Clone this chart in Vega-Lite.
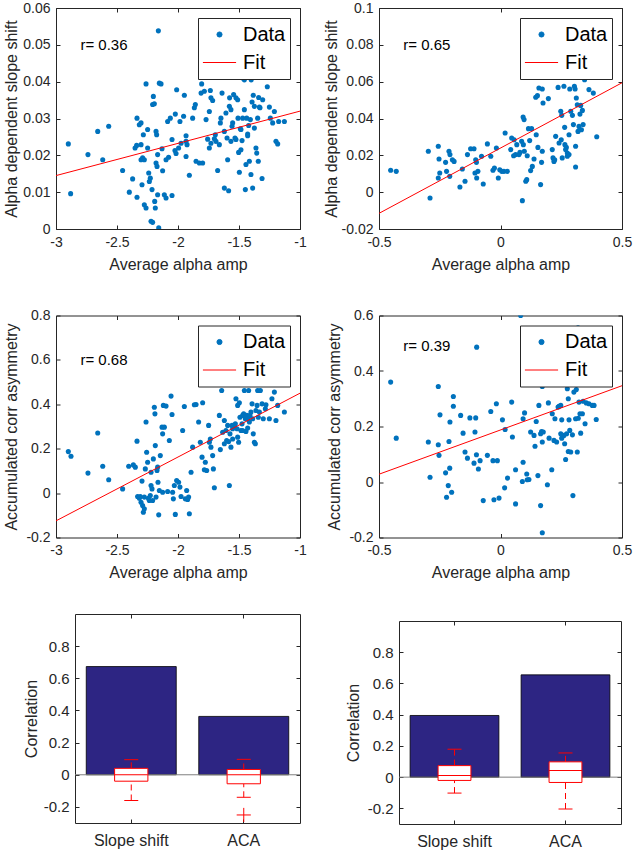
{
"$schema": "https://vega.github.io/schema/vega-lite/v6.json",
"padding": {"left": 3, "top": 0, "right": 4, "bottom": 4},
"background": "white",
"datasets": {
"d1": [{"x":-2.899,"y":0.0231},{"x":-2.88,"y":0.0096},{"x":-2.738,"y":0.0202},{"x":-2.658,"y":0.0265},{"x":-2.617,"y":0.0188},{"x":-2.568,"y":0.0279},{"x":-2.454,"y":0.0159},{"x":-2.399,"y":0.01},{"x":-2.372,"y":0.0136},{"x":-2.336,"y":0.0086},{"x":-2.336,"y":0.0301},{"x":-2.317,"y":0.0283},{"x":-2.303,"y":0.0288},{"x":-2.284,"y":0.0256},{"x":-2.352,"y":0.022},{"x":-2.339,"y":0.0227},{"x":-2.303,"y":0.0229},{"x":-2.29,"y":0.0193},{"x":-2.276,"y":0.0188},{"x":-2.295,"y":0.012},{"x":-2.276,"y":0.0066},{"x":-2.262,"y":0.0057},{"x":-2.262,"y":0.0394},{"x":-2.249,"y":0.027},{"x":-2.249,"y":0.022},{"x":-2.24,"y":0.0152},{"x":-2.235,"y":0.0129},{"x":-2.227,"y":0.0138},{"x":-2.221,"y":0.0021},{"x":-2.208,"y":0.0018},{"x":-2.213,"y":0.0107},{"x":-2.202,"y":0.036},{"x":-2.208,"y":0.0338},{"x":-2.194,"y":0.034},{"x":-2.186,"y":0.0057},{"x":-2.191,"y":0.0075},{"x":-2.18,"y":0.0265},{"x":-2.18,"y":0.0179},{"x":-2.175,"y":0.0256},{"x":-2.167,"y":0.0202},{"x":-2.161,"y":0.0538},{"x":-2.158,"y":0.0003},{"x":-2.167,"y":0.0093},{"x":-2.172,"y":0.017},{"x":-2.153,"y":0.0396},{"x":-2.139,"y":0.0394},{"x":-2.131,"y":0.0218},{"x":-2.126,"y":0.0158},{"x":-2.112,"y":0.0093},{"x":-2.098,"y":0.0084},{"x":-2.077,"y":0.0195},{"x":-2.085,"y":0.0292},{"x":-2.063,"y":0.0301},{"x":-2.049,"y":0.0091},{"x":-2.049,"y":0.0243},{"x":-2.025,"y":0.0213},{"x":-2.022,"y":0.0312},{"x":-2.011,"y":0.0378},{"x":-1.995,"y":0.022},{"x":-1.984,"y":0.0292},{"x":-1.975,"y":0.0233},{"x":-1.948,"y":0.0363},{"x":-1.954,"y":0.0306},{"x":-1.934,"y":0.0197},{"x":-1.934,"y":0.0238},{"x":-1.926,"y":0.0229},{"x":-1.907,"y":0.0146},{"x":-1.88,"y":0.0301},{"x":-1.866,"y":0.0329},{"x":-1.858,"y":0.0338},{"x":-1.852,"y":0.0184},{"x":-1.825,"y":0.0179},{"x":-1.811,"y":0.0369},{"x":-1.806,"y":0.0394},{"x":-1.798,"y":0.0179},{"x":-1.784,"y":0.0374},{"x":-1.77,"y":0.0297},{"x":-1.757,"y":0.0244},{"x":-1.743,"y":0.0319},{"x":-1.743,"y":0.022},{"x":-1.735,"y":0.0376},{"x":-1.73,"y":0.0356},{"x":-1.716,"y":0.0349},{"x":-1.702,"y":0.0245},{"x":-1.694,"y":0.0256},{"x":-1.675,"y":0.0159},{"x":-1.661,"y":0.0229},{"x":-1.653,"y":0.0288},{"x":-1.648,"y":0.0301},{"x":-1.639,"y":0.0369},{"x":-1.62,"y":0.0265},{"x":-1.62,"y":0.0111},{"x":-1.607,"y":0.0315},{"x":-1.598,"y":0.0247},{"x":-1.593,"y":0.0188},{"x":-1.585,"y":0.0104},{"x":-1.579,"y":0.0333},{"x":-1.577,"y":0.0356},{"x":-1.566,"y":0.0324},{"x":-1.557,"y":0.0279},{"x":-1.552,"y":0.0288},{"x":-1.544,"y":0.0365},{"x":-1.533,"y":0.0247},{"x":-1.525,"y":0.0243},{"x":-1.525,"y":0.0356},{"x":-1.511,"y":0.0351},{"x":-1.508,"y":0.0301},{"x":-1.503,"y":0.0208},{"x":-1.497,"y":0.0154},{"x":-1.489,"y":0.0272},{"x":-1.484,"y":0.0215},{"x":-1.475,"y":0.024},{"x":-1.47,"y":0.0301},{"x":-1.456,"y":0.0324},{"x":-1.456,"y":0.0405},{"x":-1.448,"y":0.0107},{"x":-1.443,"y":0.0175},{"x":-1.437,"y":0.0301},{"x":-1.429,"y":0.0258},{"x":-1.421,"y":0.0281},{"x":-1.415,"y":0.0184},{"x":-1.407,"y":0.0297},{"x":-1.402,"y":0.0148},{"x":-1.393,"y":0.0345},{"x":-1.388,"y":0.0111},{"x":-1.383,"y":0.0363},{"x":-1.374,"y":0.0274},{"x":-1.374,"y":0.0333},{"x":-1.361,"y":0.022},{"x":-1.355,"y":0.0206},{"x":-1.347,"y":0.0301},{"x":-1.342,"y":0.0184},{"x":-1.339,"y":0.0357},{"x":-1.333,"y":0.0331},{"x":-1.328,"y":0.0329},{"x":-1.311,"y":0.0137},{"x":-1.306,"y":0.0351},{"x":-1.268,"y":0.0386},{"x":-1.251,"y":0.0331},{"x":-1.243,"y":0.0301},{"x":-1.224,"y":0.0288},{"x":-1.21,"y":0.0319},{"x":-1.197,"y":0.0238},{"x":-1.183,"y":0.0231},{"x":-1.175,"y":0.0292},{"x":-1.128,"y":0.0292},{"x":-1.429,"y":0.0253},{"x":-1.484,"y":0.027},{"x":-1.566,"y":0.0238},{"x":-1.689,"y":0.0238},{"x":-1.73,"y":0.0233},{"x":-1.934,"y":0.0253},{"x":-2.016,"y":0.0205},{"x":-2.098,"y":0.0188},{"x":-2.303,"y":0.0188},{"x":-1.47,"y":0.041},{"x":-1.4,"y":0.0405}],
"d2": [{"x":-0.452,"y":0.0119},{"x":-0.429,"y":0.0113},{"x":-0.297,"y":0.0222},{"x":-0.29,"y":-0.0032},{"x":-0.256,"y":0.0249},{"x":-0.253,"y":0.018},{"x":-0.25,"y":0.0104},{"x":-0.256,"y":0.0077},{"x":-0.226,"y":0.0162},{"x":-0.222,"y":0.0113},{"x":-0.212,"y":0.0222},{"x":-0.208,"y":0.0204},{"x":-0.209,"y":0.0086},{"x":-0.198,"y":0.0176},{"x":-0.191,"y":0.0167},{"x":-0.167,"y":0.0028},{"x":-0.157,"y":0.0126},{"x":-0.146,"y":0.0059},{"x":-0.136,"y":0.0204},{"x":-0.123,"y":0.0236},{"x":-0.109,"y":0.0236},{"x":-0.102,"y":0.0176},{"x":-0.099,"y":0.0162},{"x":-0.105,"y":0.0104},{"x":-0.098,"y":0.0077},{"x":-0.093,"y":0.0113},{"x":-0.078,"y":0.0195},{"x":-0.071,"y":0.0044},{"x":-0.054,"y":0.0262},{"x":-0.04,"y":0.0195},{"x":-0.031,"y":0.0119},{"x":-0.025,"y":0.0131},{"x":-0.017,"y":0.024},{"x":-0.009,"y":0.0077},{"x":-0.003,"y":0.0122},{"x":0.005,"y":0.0113},{"x":0.014,"y":0.0113},{"x":0.019,"y":0.0321},{"x":0.028,"y":0.0113},{"x":0.042,"y":0.0231},{"x":0.046,"y":0.0294},{"x":0.056,"y":0.0285},{"x":0.062,"y":0.0204},{"x":0.067,"y":0.0258},{"x":0.076,"y":0.0204},{"x":0.08,"y":0.0216},{"x":0.087,"y":0.0276},{"x":0.093,"y":0.0408},{"x":0.097,"y":0.0394},{"x":0.094,"y":0.0258},{"x":0.09,"y":-0.0046},{"x":0.098,"y":0.0222},{"x":0.104,"y":0.0059},{"x":0.108,"y":0.0068},{"x":0.11,"y":0.0198},{"x":0.115,"y":0.0345},{"x":0.12,"y":0.028},{"x":0.124,"y":0.0117},{"x":0.128,"y":0.0345},{"x":0.131,"y":0.014},{"x":0.138,"y":0.018},{"x":0.145,"y":0.0515},{"x":0.147,"y":0.0312},{"x":0.152,"y":0.0524},{"x":0.154,"y":0.0243},{"x":0.158,"y":0.0566},{"x":0.165,"y":0.0041},{"x":0.169,"y":0.0162},{"x":0.172,"y":0.056},{"x":0.175,"y":0.0484},{"x":0.172,"y":0.0222},{"x":0.197,"y":0.0508},{"x":0.213,"y":0.0231},{"x":0.216,"y":0.0186},{"x":0.22,"y":0.0167},{"x":0.227,"y":0.0303},{"x":0.237,"y":0.0569},{"x":0.241,"y":0.0267},{"x":0.248,"y":0.0439},{"x":0.252,"y":0.0417},{"x":0.25,"y":0.0285},{"x":0.254,"y":0.0186},{"x":0.261,"y":0.0575},{"x":0.264,"y":0.0352},{"x":0.265,"y":0.0258},{"x":0.268,"y":0.0231},{"x":0.271,"y":0.0243},{"x":0.275,"y":0.0213},{"x":0.275,"y":0.0195},{"x":0.282,"y":0.0312},{"x":0.285,"y":0.056},{"x":0.289,"y":0.0439},{"x":0.296,"y":0.0417},{"x":0.3,"y":0.0367},{"x":0.304,"y":0.0575},{"x":0.307,"y":0.056},{"x":0.309,"y":0.0137},{"x":0.309,"y":0.0249},{"x":0.312,"y":0.0511},{"x":0.316,"y":0.0475},{"x":0.319,"y":0.033},{"x":0.323,"y":0.0357},{"x":0.327,"y":0.0424},{"x":0.33,"y":0.0471},{"x":0.333,"y":0.0339},{"x":0.337,"y":0.0444},{"x":0.34,"y":0.0367},{"x":0.346,"y":0.0611},{"x":0.364,"y":0.0557},{"x":0.382,"y":0.0538},{"x":0.396,"y":0.0301},{"x":0.282,"y":0.0204},{"x":0.223,"y":0.0176},{"x":0.054,"y":0.0198}],
"d3": [{"x":-2.899,"y":0.187},{"x":-2.877,"y":0.166},{"x":-2.738,"y":0.09},{"x":-2.658,"y":0.271},{"x":-2.617,"y":0.121},{"x":-2.568,"y":0.06},{"x":-2.454,"y":0.019},{"x":-2.404,"y":0.121},{"x":-2.366,"y":0.127},{"x":-2.35,"y":0.117},{"x":-2.336,"y":0.234},{"x":-2.331,"y":-0.015},{"x":-2.317,"y":-0.023},{"x":-2.309,"y":-0.015},{"x":-2.303,"y":-0.041},{"x":-2.295,"y":0.054},{"x":-2.29,"y":-0.056},{"x":-2.284,"y":-0.086},{"x":-2.276,"y":-0.071},{"x":-2.276,"y":-0.018},{"x":-2.268,"y":0.109},{"x":-2.262,"y":0.32},{"x":-2.257,"y":0.184},{"x":-2.249,"y":0.139},{"x":-2.243,"y":-0.023},{"x":-2.235,"y":-0.033},{"x":-2.227,"y":-0.011},{"x":-2.221,"y":0.094},{"x":-2.208,"y":-0.033},{"x":-2.213,"y":0.019},{"x":-2.202,"y":0.154},{"x":-2.194,"y":0.387},{"x":-2.189,"y":0.357},{"x":-2.186,"y":0.214},{"x":-2.18,"y":-0.018},{"x":-2.172,"y":0.102},{"x":-2.167,"y":0.117},{"x":-2.164,"y":0.049},{"x":-2.158,"y":-0.098},{"x":-2.153,"y":0.012},{"x":-2.145,"y":0.169},{"x":-2.131,"y":0.297},{"x":-2.126,"y":0.267},{"x":-2.12,"y":0.395},{"x":-2.112,"y":0.297},{"x":-2.098,"y":0.392},{"x":-2.085,"y":0.007},{"x":-2.071,"y":0.237},{"x":-2.057,"y":0.437},{"x":-2.049,"y":0.354},{"x":-2.044,"y":0.004},{"x":-2.038,"y":-0.026},{"x":-2.03,"y":0.034},{"x":-2.022,"y":-0.096},{"x":-2.011,"y":0.057},{"x":-1.995,"y":0.049},{"x":-1.984,"y":0.027},{"x":-1.975,"y":-0.015},{"x":-1.962,"y":0.282},{"x":-1.948,"y":0.39},{"x":-1.94,"y":-0.026},{"x":-1.929,"y":0.012},{"x":-1.921,"y":-0.029},{"x":-1.913,"y":-0.018},{"x":-1.907,"y":-0.093},{"x":-1.893,"y":0.094},{"x":-1.88,"y":0.207},{"x":-1.866,"y":0.398},{"x":-1.852,"y":0.399},{"x":-1.831,"y":0.32},{"x":-1.817,"y":0.229},{"x":-1.798,"y":0.407},{"x":-1.803,"y":0.162},{"x":-1.784,"y":0.105},{"x":-1.776,"y":0.139},{"x":-1.765,"y":0.102},{"x":-1.749,"y":0.305},{"x":-1.743,"y":0.229},{"x":-1.735,"y":0.244},{"x":-1.73,"y":0.207},{"x":-1.716,"y":0.169},{"x":-1.71,"y":0.109},{"x":-1.702,"y":0.024},{"x":-1.661,"y":0.35},{"x":-1.653,"y":0.196},{"x":-1.642,"y":0.462},{"x":-1.634,"y":0.274},{"x":-1.62,"y":0.327},{"x":-1.607,"y":0.282},{"x":-1.601,"y":0.237},{"x":-1.593,"y":0.305},{"x":-1.585,"y":0.232},{"x":-1.579,"y":0.034},{"x":-1.574,"y":0.267},{"x":-1.566,"y":0.207},{"x":-1.557,"y":0.305},{"x":-1.552,"y":0.244},{"x":-1.538,"y":0.297},{"x":-1.53,"y":0.312},{"x":-1.525,"y":0.425},{"x":-1.516,"y":0.29},{"x":-1.511,"y":0.395},{"x":-1.503,"y":0.229},{"x":-1.497,"y":0.407},{"x":-1.492,"y":0.342},{"x":-1.484,"y":0.282},{"x":-1.475,"y":0.312},{"x":-1.47,"y":0.35},{"x":-1.462,"y":0.357},{"x":-1.456,"y":0.462},{"x":-1.448,"y":0.335},{"x":-1.443,"y":0.278},{"x":-1.437,"y":0.35},{"x":-1.429,"y":0.293},{"x":-1.421,"y":0.462},{"x":-1.415,"y":0.32},{"x":-1.41,"y":0.35},{"x":-1.402,"y":0.365},{"x":-1.393,"y":0.402},{"x":-1.388,"y":0.335},{"x":-1.383,"y":0.267},{"x":-1.374,"y":0.229},{"x":-1.366,"y":0.222},{"x":-1.361,"y":0.372},{"x":-1.352,"y":0.395},{"x":-1.347,"y":0.462},{"x":-1.342,"y":0.342},{"x":-1.333,"y":0.365},{"x":-1.325,"y":0.462},{"x":-1.311,"y":0.402},{"x":-1.301,"y":0.335},{"x":-1.284,"y":0.38},{"x":-1.279,"y":0.398},{"x":-1.251,"y":0.335},{"x":-1.23,"y":0.425},{"x":-1.21,"y":0.455},{"x":-1.197,"y":0.327},{"x":-1.183,"y":0.395},{"x":-1.128,"y":0.365},{"x":-1.47,"y":0.282},{"x":-1.552,"y":0.29},{"x":-1.511,"y":0.252},{"x":-1.429,"y":0.335},{"x":-1.62,"y":0.222},{"x":-2.126,"y":0.004},{"x":-2.221,"y":0.034}],
"d4": [{"x":-0.452,"y":0.36},{"x":-0.429,"y":0.158},{"x":-0.297,"y":0.144},{"x":-0.29,"y":0.017},{"x":-0.256,"y":0.344},{"x":-0.256,"y":0.134},{"x":-0.253,"y":0.096},{"x":-0.249,"y":0.242},{"x":-0.226,"y":0.033},{"x":-0.222,"y":-0.055},{"x":-0.215,"y":-0.013},{"x":-0.212,"y":0.146},{"x":-0.209,"y":0.05},{"x":-0.208,"y":0.216},{"x":-0.201,"y":-0.037},{"x":-0.194,"y":0.308},{"x":-0.194,"y":0.273},{"x":-0.164,"y":0.24},{"x":-0.154,"y":0.176},{"x":-0.146,"y":0.108},{"x":-0.136,"y":0.086},{"x":-0.126,"y":0.231},{"x":-0.109,"y":0.068},{"x":-0.105,"y":0.18},{"x":-0.102,"y":0.231},{"x":-0.099,"y":0.098},{"x":-0.098,"y":0.486},{"x":-0.091,"y":0.047},{"x":-0.084,"y":0.077},{"x":-0.071,"y":-0.067},{"x":-0.054,"y":0.096},{"x":-0.04,"y":0.254},{"x":-0.031,"y":0.077},{"x":-0.027,"y":-0.064},{"x":-0.017,"y":0.282},{"x":-0.013,"y":0.077},{"x":-0.006,"y":-0.058},{"x":0.008,"y":0.224},{"x":0.017,"y":-0.021},{"x":0.019,"y":0.189},{"x":0.029,"y":0.014},{"x":0.046,"y":0.288},{"x":0.049,"y":0.162},{"x":0.062,"y":0.044},{"x":0.062,"y":-0.079},{"x":0.083,"y":0.6},{"x":0.09,"y":0.002},{"x":0.093,"y":0.071},{"x":0.093,"y":0.228},{"x":0.099,"y":0.249},{"x":0.108,"y":0.029},{"x":0.11,"y":0.008},{"x":0.117,"y":0.009},{"x":0.124,"y":0.18},{"x":0.138,"y":0.168},{"x":0.142,"y":0.129},{"x":0.147,"y":0.218},{"x":0.154,"y":0.023},{"x":0.158,"y":0.276},{"x":0.165,"y":0.174},{"x":0.169,"y":0.182},{"x":0.165,"y":-0.085},{"x":0.172,"y":0.344},{"x":0.176,"y":0.18},{"x":0.193,"y":-0.01},{"x":0.197,"y":0.285},{"x":0.2,"y":0.158},{"x":0.211,"y":0.044},{"x":0.213,"y":0.246},{"x":0.22,"y":0.15},{"x":0.224,"y":0.228},{"x":0.231,"y":0.144},{"x":0.237,"y":0.27},{"x":0.241,"y":0.273},{"x":0.248,"y":0.276},{"x":0.252,"y":0.224},{"x":0.252,"y":0.158},{"x":0.261,"y":0.168},{"x":0.264,"y":0.138},{"x":0.268,"y":0.081},{"x":0.272,"y":0.174},{"x":0.275,"y":0.336},{"x":0.279,"y":0.11},{"x":0.279,"y":0.3},{"x":0.282,"y":0.224},{"x":0.285,"y":0.186},{"x":0.289,"y":0.108},{"x":0.296,"y":0.17},{"x":0.298,"y":-0.049},{"x":0.302,"y":0.324},{"x":0.309,"y":0.228},{"x":0.312,"y":0.333},{"x":0.316,"y":0.108},{"x":0.319,"y":0.556},{"x":0.32,"y":0.23},{"x":0.323,"y":0.288},{"x":0.327,"y":0.246},{"x":0.33,"y":0.176},{"x":0.337,"y":0.246},{"x":0.34,"y":0.291},{"x":0.348,"y":0.21},{"x":0.353,"y":0.285},{"x":0.364,"y":0.282},{"x":0.378,"y":0.276},{"x":0.385,"y":0.276},{"x":0.394,"y":0.225},{"x":0.172,"y":0.144},{"x":0.248,"y":0.174},{"x":0.172,"y":-0.183}],
"f1": [{"x":-3,"y":0.0145},{"x":-1,"y":0.032}],
"f2": [{"x":-0.5,"y":-0.0115},{"x":0.5,"y":0.0594}],
"f3": [{"x":-3,"y":-0.125},{"x":-1,"y":0.45}],
"f4": [{"x":-0.5,"y":0.028},{"x":0.5,"y":0.347}],
"b1": [{"cat":"Slope shift","r":0.673},{"cat":"ACA","r":0.363}],
"s1": [{"cat":"Slope shift","lo":-0.16,"q1":-0.04,"med":0.0,"q3":0.04,"hi":0.094},{"cat":"ACA","lo":-0.14,"q1":-0.056,"med":0.0,"q3":0.033,"hi":0.096}],
"o1": [{"cat":"ACA","v":-0.25}],
"b2": [{"cat":"Slope shift","r":0.395},{"cat":"ACA","r":0.655}],
"s2": [{"cat":"Slope shift","lo":-0.102,"q1":-0.021,"med":0.011,"q3":0.074,"hi":0.179},{"cat":"ACA","lo":-0.204,"q1":-0.034,"med":0.043,"q3":0.098,"hi":0.155}]
},
"vconcat": [
{
"hconcat": [
{
"width": 244, "height": 221,
"layer": [
{"data": {"name": "d1"}, "mark": {"type": "point", "filled": true, "opacity": 1, "clip": true},
"encoding": {
"x": {"field": "x", "type": "quantitative", "scale": {"domain": [-3, -1], "nice": false, "zero": false}, "axis": {"title": "Average alpha amp", "values": [-3, -2.5, -2, -1.5, -1]}},
"y": {"field": "y", "type": "quantitative", "scale": {"domain": [0, 0.06], "nice": false, "zero": false}, "axis": {"title": "Alpha dependent slope shift", "titlePadding": 3, "values": [0, 0.01, 0.02, 0.03, 0.04, 0.05, 0.06]}},
"fill": {"datum": "Data", "type": "nominal", "scale": {"domain": ["Data", "Fit"], "range": ["#0072BD", "transparent"]}, "legend": {"title": null}},
"shape": {"datum": "Data", "type": "nominal", "scale": {"domain": ["Data", "Fit"], "range": ["circle", "stroke"]}, "legend": {"title": null}},
"size": {"datum": "Data", "type": "nominal", "scale": {"domain": ["Data", "Fit"], "range": [26, 1100]}, "legend": {"title": null}}}},
{"data": {"name": "f1"}, "mark": {"type": "line", "strokeWidth": 1, "clip": true},
"encoding": {
"x": {"field": "x", "type": "quantitative", "axis": {"orient": "top", "labels": false, "title": null, "values": [-3, -2.5, -2, -1.5, -1]}},
"y": {"field": "y", "type": "quantitative", "axis": {"orient": "right", "labels": false, "title": null, "values": [0, 0.01, 0.02, 0.03, 0.04, 0.05, 0.06]}},
"stroke": {"datum": "Fit", "type": "nominal", "scale": {"domain": ["Data", "Fit"], "range": ["#0072BD", "#FF0000"]}, "legend": {"title": null}}}},
{"data": {"values": [{"x": -2.8, "y": 0.05, "t": "r= 0.36"}]}, "mark": {"type": "text", "align": "left", "baseline": "middle", "fontSize": 15, "color": "#000000"},
"encoding": {"x": {"field": "x", "type": "quantitative", "axis": null}, "y": {"field": "y", "type": "quantitative", "axis": null}, "text": {"field": "t"}}}
],
"resolve": {"axis": {"x": "independent", "y": "independent"}}
},
{
"width": 243, "height": 221,
"layer": [
{"data": {"name": "d2"}, "mark": {"type": "point", "filled": true, "opacity": 1, "clip": true},
"encoding": {
"x": {"field": "x", "type": "quantitative", "scale": {"domain": [-0.5, 0.5], "nice": false, "zero": false}, "axis": {"title": "Average alpha amp", "values": [-0.5, 0, 0.5]}},
"y": {"field": "y", "type": "quantitative", "scale": {"domain": [-0.02, 0.1], "nice": false, "zero": false}, "axis": {"title": "Alpha dependent slope shift", "titlePadding": 2, "values": [-0.02, 0, 0.02, 0.04, 0.06, 0.08, 0.1]}},
"fill": {"datum": "Data", "type": "nominal", "scale": {"domain": ["Data", "Fit"], "range": ["#0072BD", "transparent"]}, "legend": {"title": null}},
"shape": {"datum": "Data", "type": "nominal", "scale": {"domain": ["Data", "Fit"], "range": ["circle", "stroke"]}, "legend": {"title": null}},
"size": {"datum": "Data", "type": "nominal", "scale": {"domain": ["Data", "Fit"], "range": [26, 1100]}, "legend": {"title": null}}}},
{"data": {"name": "f2"}, "mark": {"type": "line", "strokeWidth": 1, "clip": true},
"encoding": {
"x": {"field": "x", "type": "quantitative", "axis": {"orient": "top", "labels": false, "title": null, "values": [-0.5, 0, 0.5]}},
"y": {"field": "y", "type": "quantitative", "axis": {"orient": "right", "labels": false, "title": null, "values": [-0.02, 0, 0.02, 0.04, 0.06, 0.08, 0.1]}},
"stroke": {"datum": "Fit", "type": "nominal", "scale": {"domain": ["Data", "Fit"], "range": ["#0072BD", "#FF0000"]}, "legend": {"title": null}}}},
{"data": {"values": [{"x": -0.4, "y": 0.08, "t": "r= 0.65"}]}, "mark": {"type": "text", "align": "left", "baseline": "middle", "fontSize": 15, "color": "#000000"},
"encoding": {"x": {"field": "x", "type": "quantitative", "axis": null}, "y": {"field": "y", "type": "quantitative", "axis": null}, "text": {"field": "t"}}}
],
"resolve": {"axis": {"x": "independent", "y": "independent"}}
}
],
"spacing": 79, "bounds": "flush",
"resolve": {"scale": {"fill": "independent", "stroke": "independent", "shape": "independent", "size": "independent"}, "legend": {"fill": "independent", "stroke": "independent", "shape": "independent", "size": "independent"}}
},
{
"vconcat": [
{
"hconcat": [
{
"width": 244, "height": 222,
"layer": [
{"data": {"name": "d3"}, "mark": {"type": "point", "filled": true, "opacity": 1, "clip": true},
"encoding": {
"x": {"field": "x", "type": "quantitative", "scale": {"domain": [-3, -1], "nice": false, "zero": false}, "axis": {"title": "Average alpha amp", "values": [-3, -2.5, -2, -1.5, -1]}},
"y": {"field": "y", "type": "quantitative", "scale": {"domain": [-0.2, 0.8], "nice": false, "zero": false}, "axis": {"title": "Accumulated corr asymmetry", "titlePadding": 6, "values": [-0.2, 0, 0.2, 0.4, 0.6, 0.8]}},
"fill": {"datum": "Data", "type": "nominal", "scale": {"domain": ["Data", "Fit"], "range": ["#0072BD", "transparent"]}, "legend": {"title": null}},
"shape": {"datum": "Data", "type": "nominal", "scale": {"domain": ["Data", "Fit"], "range": ["circle", "stroke"]}, "legend": {"title": null}},
"size": {"datum": "Data", "type": "nominal", "scale": {"domain": ["Data", "Fit"], "range": [26, 1100]}, "legend": {"title": null}}}},
{"data": {"name": "f3"}, "mark": {"type": "line", "strokeWidth": 1, "clip": true},
"encoding": {
"x": {"field": "x", "type": "quantitative", "axis": {"orient": "top", "labels": false, "title": null, "values": [-3, -2.5, -2, -1.5, -1]}},
"y": {"field": "y", "type": "quantitative", "axis": {"orient": "right", "labels": false, "title": null, "values": [-0.2, 0, 0.2, 0.4, 0.6, 0.8]}},
"stroke": {"datum": "Fit", "type": "nominal", "scale": {"domain": ["Data", "Fit"], "range": ["#0072BD", "#FF0000"]}, "legend": {"title": null}}}},
{"data": {"values": [{"x": -2.8, "y": 0.6, "t": "r= 0.68"}]}, "mark": {"type": "text", "align": "left", "baseline": "middle", "fontSize": 15, "color": "#000000"},
"encoding": {"x": {"field": "x", "type": "quantitative", "axis": null}, "y": {"field": "y", "type": "quantitative", "axis": null}, "text": {"field": "t"}}}
],
"resolve": {"axis": {"x": "independent", "y": "independent"}}
},
{
"width": 243, "height": 222,
"layer": [
{"data": {"name": "d4"}, "mark": {"type": "point", "filled": true, "opacity": 1, "clip": true},
"encoding": {
"x": {"field": "x", "type": "quantitative", "scale": {"domain": [-0.5, 0.5], "nice": false, "zero": false}, "axis": {"title": "Average alpha amp", "values": [-0.5, 0, 0.5]}},
"y": {"field": "y", "type": "quantitative", "scale": {"domain": [-0.2, 0.6], "nice": false, "zero": false}, "axis": {"title": "Accumulated corr asymmetry", "titlePadding": 6, "values": [-0.2, 0, 0.2, 0.4, 0.6]}},
"fill": {"datum": "Data", "type": "nominal", "scale": {"domain": ["Data", "Fit"], "range": ["#0072BD", "transparent"]}, "legend": {"title": null}},
"shape": {"datum": "Data", "type": "nominal", "scale": {"domain": ["Data", "Fit"], "range": ["circle", "stroke"]}, "legend": {"title": null}},
"size": {"datum": "Data", "type": "nominal", "scale": {"domain": ["Data", "Fit"], "range": [26, 1100]}, "legend": {"title": null}}}},
{"data": {"name": "f4"}, "mark": {"type": "line", "strokeWidth": 1, "clip": true},
"encoding": {
"x": {"field": "x", "type": "quantitative", "axis": {"orient": "top", "labels": false, "title": null, "values": [-0.5, 0, 0.5]}},
"y": {"field": "y", "type": "quantitative", "axis": {"orient": "right", "labels": false, "title": null, "values": [-0.2, 0, 0.2, 0.4, 0.6]}},
"stroke": {"datum": "Fit", "type": "nominal", "scale": {"domain": ["Data", "Fit"], "range": ["#0072BD", "#FF0000"]}, "legend": {"title": null}}}},
{"data": {"values": [{"x": -0.4, "y": 0.49, "t": "r= 0.39"}]}, "mark": {"type": "text", "align": "left", "baseline": "middle", "fontSize": 15, "color": "#000000"},
"encoding": {"x": {"field": "x", "type": "quantitative", "axis": null}, "y": {"field": "y", "type": "quantitative", "axis": null}, "text": {"field": "t"}}}
],
"resolve": {"axis": {"x": "independent", "y": "independent"}}
}
],
"spacing": 79, "bounds": "flush",
"resolve": {"scale": {"fill": "independent", "stroke": "independent", "shape": "independent", "size": "independent"}, "legend": {"fill": "independent", "stroke": "independent", "shape": "independent", "size": "independent"}}
},
{
"hconcat": [
{"data": {"values": [{}]}, "mark": {"type": "point", "opacity": 0}, "width": 19, "height": 1, "view": {"stroke": null}},
{
"hconcat": [
{
"width": 225, "height": 209,
"layer": [
{"data": {"name": "b1"}, "mark": {"type": "bar", "fill": "#2d2583", "stroke": "#000000", "strokeWidth": 0.8},
"encoding": {
"x": {"field": "cat", "type": "nominal", "sort": ["Slope shift", "ACA"], "scale": {"paddingInner": 0.2, "paddingOuter": 0.1}, "axis": {"title": null, "labelAngle": 0, "labelFontSize": 16, "labelPadding": 13}},
"y": {"field": "r", "type": "quantitative", "scale": {"domain": [-0.3, 1.0], "nice": false, "zero": false}, "axis": {"title": "Correlation", "titlePadding": 4, "labelFontSize": 15, "values": [-0.2, 0, 0.2, 0.4, 0.6, 0.8]}}}},
{"data": {"values": [{}]}, "mark": {"type": "rule", "color": "#7f7f7f", "strokeWidth": 1}, "encoding": {"y": {"datum": 0, "type": "quantitative", "axis": null}}},
{"data": {"name": "s1"}, "mark": {"type": "rule", "color": "#FF0000", "strokeWidth": 1, "strokeDash": [6, 4]},
"encoding": {"x": {"field": "cat", "type": "nominal", "sort": ["Slope shift", "ACA"], "axis": {"orient": "top", "labels": false, "title": null}}, "y": {"field": "q3", "type": "quantitative", "axis": {"orient": "right", "labels": false, "title": null, "values": [-0.2, 0, 0.2, 0.4, 0.6, 0.8]}}, "y2": {"field": "hi"}}},
{"data": {"name": "s1"}, "mark": {"type": "rule", "color": "#FF0000", "strokeWidth": 1, "strokeDash": [6, 4]},
"encoding": {"x": {"field": "cat", "type": "nominal", "sort": ["Slope shift", "ACA"], "axis": null}, "y": {"field": "lo", "type": "quantitative", "axis": null}, "y2": {"field": "q1"}}},
{"data": {"name": "s1"}, "mark": {"type": "bar", "width": {"band": 0.37}, "fill": "white", "stroke": "#FF0000", "strokeWidth": 1},
"encoding": {"x": {"field": "cat", "type": "nominal", "sort": ["Slope shift", "ACA"], "axis": null}, "y": {"field": "q1", "type": "quantitative", "axis": null}, "y2": {"field": "q3"}}},
{"data": {"name": "s1"}, "mark": {"type": "tick", "color": "#FF0000", "size": 33, "thickness": 1, "opacity": 1},
"encoding": {"x": {"field": "cat", "type": "nominal", "sort": ["Slope shift", "ACA"], "axis": null}, "y": {"field": "med", "type": "quantitative", "axis": null}}},
{"data": {"name": "s1"}, "mark": {"type": "tick", "color": "#FF0000", "size": 14, "thickness": 1, "opacity": 1},
"encoding": {"x": {"field": "cat", "type": "nominal", "sort": ["Slope shift", "ACA"], "axis": null}, "y": {"field": "hi", "type": "quantitative", "axis": null}}},
{"data": {"name": "s1"}, "mark": {"type": "tick", "color": "#FF0000", "size": 14, "thickness": 1, "opacity": 1},
"encoding": {"x": {"field": "cat", "type": "nominal", "sort": ["Slope shift", "ACA"], "axis": null}, "y": {"field": "lo", "type": "quantitative", "axis": null}}},
{"data": {"name": "o1"}, "mark": {"type": "point", "shape": "M-1,0H1M0,-1V1", "size": 200, "filled": false, "stroke": "#FF0000", "strokeWidth": 1, "opacity": 1},
"encoding": {"x": {"field": "cat", "type": "nominal", "sort": ["Slope shift", "ACA"], "axis": null}, "y": {"field": "v", "type": "quantitative", "axis": null}}}
],
"resolve": {"axis": {"x": "independent", "y": "independent"}}
},
{
"vconcat": [
{"data": {"values": [{}]}, "mark": {"type": "point", "opacity": 0}, "width": 1, "height": 7, "view": {"stroke": null}},
{
"width": 222, "height": 203,
"layer": [
{"data": {"name": "b2"}, "mark": {"type": "bar", "fill": "#2d2583", "stroke": "#000000", "strokeWidth": 0.8},
"encoding": {
"x": {"field": "cat", "type": "nominal", "sort": ["Slope shift", "ACA"], "scale": {"paddingInner": 0.2, "paddingOuter": 0.1}, "axis": {"title": null, "labelAngle": 0, "labelFontSize": 16, "labelPadding": 13}},
"y": {"field": "r", "type": "quantitative", "scale": {"domain": [-0.3, 1.0], "nice": false, "zero": false}, "axis": {"title": "Correlation", "titlePadding": 6, "labelFontSize": 15, "values": [-0.2, 0, 0.2, 0.4, 0.6, 0.8]}}}},
{"data": {"values": [{}]}, "mark": {"type": "rule", "color": "#7f7f7f", "strokeWidth": 1}, "encoding": {"y": {"datum": 0, "type": "quantitative", "axis": null}}},
{"data": {"name": "s2"}, "mark": {"type": "rule", "color": "#FF0000", "strokeWidth": 1, "strokeDash": [6, 4]},
"encoding": {"x": {"field": "cat", "type": "nominal", "sort": ["Slope shift", "ACA"], "axis": {"orient": "top", "labels": false, "title": null}}, "y": {"field": "q3", "type": "quantitative", "axis": {"orient": "right", "labels": false, "title": null, "values": [-0.2, 0, 0.2, 0.4, 0.6, 0.8]}}, "y2": {"field": "hi"}}},
{"data": {"name": "s2"}, "mark": {"type": "rule", "color": "#FF0000", "strokeWidth": 1, "strokeDash": [6, 4]},
"encoding": {"x": {"field": "cat", "type": "nominal", "sort": ["Slope shift", "ACA"], "axis": null}, "y": {"field": "lo", "type": "quantitative", "axis": null}, "y2": {"field": "q1"}}},
{"data": {"name": "s2"}, "mark": {"type": "bar", "width": {"band": 0.37}, "fill": "white", "stroke": "#FF0000", "strokeWidth": 1},
"encoding": {"x": {"field": "cat", "type": "nominal", "sort": ["Slope shift", "ACA"], "axis": null}, "y": {"field": "q1", "type": "quantitative", "axis": null}, "y2": {"field": "q3"}}},
{"data": {"name": "s2"}, "mark": {"type": "tick", "color": "#FF0000", "size": 33, "thickness": 1, "opacity": 1},
"encoding": {"x": {"field": "cat", "type": "nominal", "sort": ["Slope shift", "ACA"], "axis": null}, "y": {"field": "med", "type": "quantitative", "axis": null}}},
{"data": {"name": "s2"}, "mark": {"type": "tick", "color": "#FF0000", "size": 14, "thickness": 1, "opacity": 1},
"encoding": {"x": {"field": "cat", "type": "nominal", "sort": ["Slope shift", "ACA"], "axis": null}, "y": {"field": "hi", "type": "quantitative", "axis": null}}},
{"data": {"name": "s2"}, "mark": {"type": "tick", "color": "#FF0000", "size": 14, "thickness": 1, "opacity": 1},
"encoding": {"x": {"field": "cat", "type": "nominal", "sort": ["Slope shift", "ACA"], "axis": null}, "y": {"field": "lo", "type": "quantitative", "axis": null}}}
],
"resolve": {"axis": {"x": "independent", "y": "independent"}}
}
],
"spacing": 0, "bounds": "flush"
}
],
"spacing": 99, "bounds": "flush"
}
],
"spacing": 0, "bounds": "flush"
}
],
"spacing": 29.5,
"resolve": {"scale": {"fill": "independent", "stroke": "independent", "shape": "independent", "size": "independent"}, "legend": {"fill": "independent", "stroke": "independent", "shape": "independent", "size": "independent"}}
}
],
"spacing": 34.5,
"resolve": {"scale": {"fill": "independent", "stroke": "independent", "shape": "independent", "size": "independent"}, "legend": {"fill": "independent", "stroke": "independent", "shape": "independent", "size": "independent"}},
"config": {
"font": "Liberation Sans",
"view": {"stroke": "#262626", "strokeWidth": 1},
"axis": {"domain": false, "grid": false, "ticks": true, "tickSize": -4, "tickColor": "#262626", "tickWidth": 1, "labelColor": "#262626", "labelFontSize": 14, "labelPadding": 10, "labelFlush": false, "labelOverlap": false, "labelExpr": "'' + datum.value", "titleColor": "#262626", "titleFontSize": 16, "titleFontWeight": "normal", "titlePadding": 3},
"axisX": {"titlePadding": 7},
"legend": {"orient": "top-right", "offset": 10, "fillColor": "white", "strokeColor": "#262626", "padding": 4, "cornerRadius": 0, "labelFontSize": 20, "labelColor": "#000000", "labelFont": "Liberation Sans", "symbolStrokeWidth": 1, "symbolOpacity": 1, "clipHeight": 25, "rowPadding": 3, "labelOffset": 6}
}
}
